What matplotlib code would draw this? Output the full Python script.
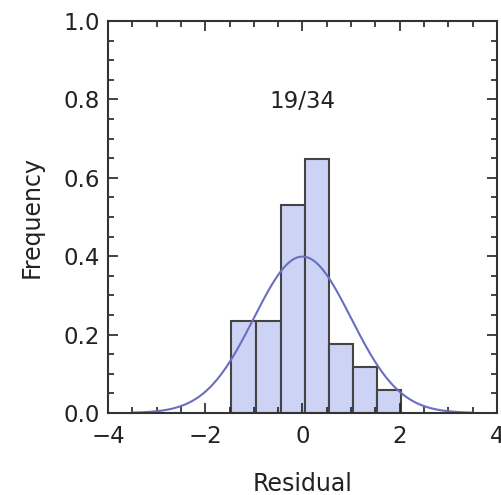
import matplotlib
matplotlib.use("Agg")
import matplotlib.pyplot as plt
import numpy as np
from matplotlib.ticker import MultipleLocator

# histogram of residuals
edges = [-1.47, -0.95, -0.45, 0.05, 0.54, 1.04, 1.53, 2.02]
counts = [4, 4, 9, 11, 3, 2, 1]
n_total = 34
label = "19/34"

bin_w = 0.5
dens = np.array(counts) / (n_total * bin_w)
left = np.array(edges[:-1])
widths = np.diff(edges)

xs = np.linspace(-3.5, 3.5, 300)
pdf = np.exp(-xs**2 / 2) / np.sqrt(2 * np.pi)

fig = plt.figure(figsize=(5.02, 4.95), dpi=100)
ax = fig.add_axes([0.215, 0.1657, 0.775, 0.792])

ax.bar(left, dens, width=widths, align="edge", color="#ccd3f4",
       edgecolor="#444444", linewidth=1.5)
ax.plot(xs, pdf, color="#6a6ec0", lw=1.5)

ax.text(0, 0.795, label, ha="center", va="center", fontsize=16.5, color="#222222")

ax.set_xlim(-4, 4)
ax.set_ylim(0, 1.0)
ax.xaxis.set_major_locator(MultipleLocator(2))
ax.xaxis.set_minor_locator(MultipleLocator(0.5))
ax.yaxis.set_major_locator(MultipleLocator(0.2))
ax.yaxis.set_minor_locator(MultipleLocator(0.05))
ax.tick_params(which="both", direction="in", top=True, right=True,
               labelsize=16.5, colors="#222222", width=1.2)
ax.tick_params(which="major", length=7)
ax.tick_params(which="minor", length=4)
ax.tick_params(axis="x", pad=9)
ax.tick_params(axis="y", pad=6)
for s in ax.spines.values():
    s.set_linewidth(1.5)
    s.set_color("#333333")

ax.set_xlabel("Residual", fontsize=17, color="#222222", labelpad=17)
ax.set_ylabel("Frequency", fontsize=17, color="#222222", labelpad=14)

fig.savefig("out.png", dpi=100)
